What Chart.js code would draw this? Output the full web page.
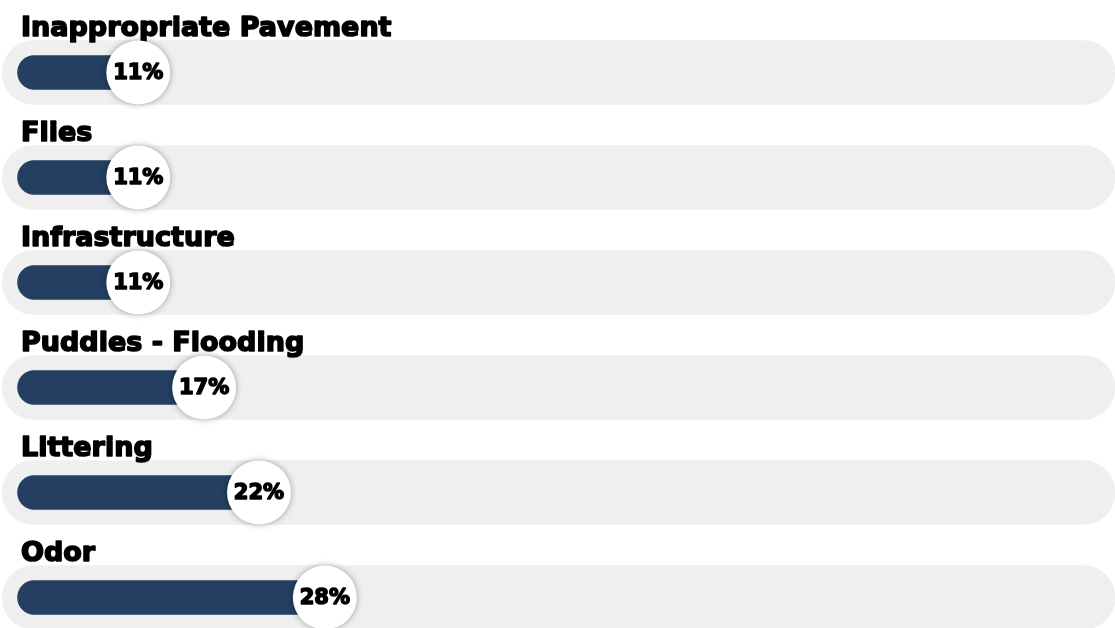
<!DOCTYPE html>
<html>
<head>
<meta charset="utf-8">
<title>Complaints</title>
<script src="https://cdn.jsdelivr.net/npm/chart.js@4.4.1/dist/chart.umd.min.js"></script>
<style>
  html, body { margin: 0; padding: 0; background: #fff; overflow: hidden; }
  #wrap { width: 1115px; height: 650px; position: relative; }
</style>
</head>
<body>
<div id="wrap"><canvas id="grafico"></canvas></div>
<script>
// categorias e percentuais (de cima para baixo)
var categorias = ['Inappropriate Pavement', 'Flies', 'Infrastructure', 'Puddles - Flooding', 'Littering', 'Odor'];
var percentuais = [11, 11, 11, 17, 22, 28];
var trilho = [-1.4, 100]; // faixa cinza de fundo, 0 a 100%

var corBarra = '#243f61';
var corTrilho = '#efefef';
var fonte = '"DejaVu Sans", sans-serif';

// texto bem pesado: preenchimento + contorno
function textoPesado(ctx, txt, x, y, espessura) {
  ctx.lineWidth = espessura;
  ctx.lineJoin = 'round';
  ctx.strokeStyle = '#000';
  ctx.strokeText(txt, x, y);
  ctx.fillText(txt, x, y);
}

// desenha os titulos acima de cada faixa e o circulo com o percentual
var rotulos = {
  id: 'rotulos',
  afterDatasetsDraw: function(chart) {
    var ctx = chart.ctx;
    var barras = chart.getDatasetMeta(1).data;
    var fundo = chart.getDatasetMeta(0).data;

    ctx.save();
    ctx.fillStyle = '#000';
    ctx.textAlign = 'left';
    ctx.textBaseline = 'alphabetic';
    ctx.font = 'bold 27px ' + fonte;
    fundo.forEach(function(el, i) {
      textoPesado(ctx, categorias[i], 21, el.y - el.height / 2 - 5, 1.6);
    });

    barras.forEach(function(el, i) {
      ctx.save();
      ctx.shadowColor = 'rgba(0,0,0,0.35)';
      ctx.shadowBlur = 6;
      ctx.beginPath();
      ctx.arc(el.x, el.y, 32, 0, Math.PI * 2);
      ctx.fillStyle = '#fff';
      ctx.fill();
      ctx.restore();

      ctx.fillStyle = '#000';
      ctx.textAlign = 'center';
      ctx.textBaseline = 'middle';
      ctx.font = 'bold 21px ' + fonte;
      textoPesado(ctx, percentuais[i] + '%', el.x, el.y + 1, 1.5);
    });
    ctx.restore();
  }
};

var ctxGrafico = document.getElementById('grafico').getContext('2d');
var grafico = new Chart(ctxGrafico, {
  type: 'bar',
  data: {
    labels: categorias,
    datasets: [{
      label: 'Fundo',
      data: categorias.map(function() { return trilho; }),
      backgroundColor: corTrilho,
      borderRadius: 32,
      borderSkipped: false,
      barThickness: 64,
      grouped: false,
      order: 2
    }, {
      label: 'Percentual',
      data: percentuais,
      backgroundColor: corBarra,
      borderRadius: 17,
      borderSkipped: false,
      barThickness: 34,
      grouped: false,
      order: 1
    }]
  },
  options: {
    indexAxis: 'y',
    responsive: true,
    maintainAspectRatio: false,
    animation: false,
    layout: { padding: { top: 20, left: 0, right: 0, bottom: 0 } },
    scales: {
      x: { display: false, min: -1.6, max: 100 },
      y: { display: false }
    },
    plugins: {
      legend: { display: false },
      tooltip: { enabled: false }
    }
  },
  plugins: [rotulos]
});
</script>
</body>
</html>
